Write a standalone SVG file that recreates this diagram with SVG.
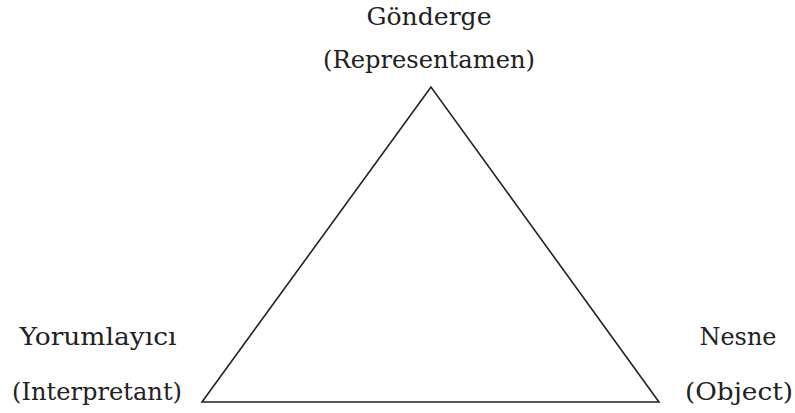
<svg xmlns="http://www.w3.org/2000/svg" width="795" height="413" viewBox="0 0 795 413">
<style>
text{font-family:'DejaVu Serif',serif;font-size:25px;fill:#222;text-anchor:middle}
.edge{fill:none;stroke:#222;stroke-width:1.6;stroke-linejoin:miter}
</style>
<rect width="795" height="413" fill="#fff"/>
<g id="connectors">
<polygon class="edge" points="431,87 202,402 659,402"/>
</g>
<g id="node-representamen">
<text x="429" y="25" textLength="125" lengthAdjust="spacingAndGlyphs">Gönderge</text>
<text x="429" y="68" textLength="212" lengthAdjust="spacingAndGlyphs">(Representamen)</text>
</g>
<g id="node-interpretant">
<text x="98" y="345" textLength="157" lengthAdjust="spacingAndGlyphs">Yorumlayıcı</text>
<text x="97" y="400" textLength="170" lengthAdjust="spacingAndGlyphs">(Interpretant)</text>
</g>
<g id="node-object">
<text x="738" y="345" textLength="77" lengthAdjust="spacingAndGlyphs">Nesne</text>
<text x="739" y="400" textLength="108" lengthAdjust="spacingAndGlyphs">(Object)</text>
</g>
</svg>
